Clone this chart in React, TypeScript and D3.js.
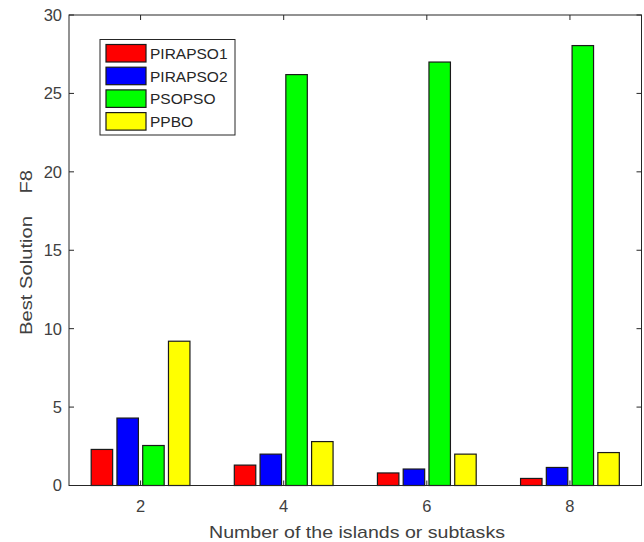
import React from "react";
import * as d3 from "d3";

const categories = [2, 4, 6, 8];
const seriesNames = ["PIRAPSO1", "PIRAPSO2", "PSOPSO", "PPBO"];
const seriesColors = ["#ff0000", "#0000ff", "#00ff00", "#ffff00"];
const pirapso1 = [2.3, 1.3, 0.8, 0.45];
const pirapso2 = [4.3, 2.0, 1.05, 1.15];
const psopso = [2.55, 26.2, 27.0, 28.05];
const ppbo = [9.2, 2.8, 2.0, 2.1];
const yTicks = [0, 5, 10, 15, 20, 25, 30];
const xTicks = [2, 4, 6, 8];

const W = 644;
const H = 542;
const M = { left: 69, right: 641.5, top: 15, bottom: 485.5 };

export default function App() {
  const series = [pirapso1, pirapso2, psopso, ppbo];
  const x = d3.scaleLinear().domain([1, 9]).range([M.left, M.right]);
  const y = d3.scaleLinear().domain([0, 30]).range([M.bottom, M.top]);
  const unit = x(2) - x(1);
  const step = unit * 0.36;
  const bw = unit * 0.3;
  const font = "'Liberation Sans', Arial, sans-serif";
  const tickLen = 5;

  return (
    <svg width={W} height={H} style={{ position: "absolute", left: 0, top: 0, background: "#fff" }}>
      <rect x={0} y={0} width={W} height={H} fill="#fff" />
      {/* bars */}
      {series.map((vals, si) =>
        vals.map((v, ci) => {
          const cx = x(categories[ci]) + (si - 1.5) * step;
          return (
            <rect
              key={`${si}-${ci}`}
              x={cx - bw / 2}
              y={y(v)}
              width={bw}
              height={y(0) - y(v)}
              fill={seriesColors[si]}
              stroke="#1a1a1a"
              strokeWidth={1.2}
            />
          );
        })
      )}
      {/* axes box */}
      <rect
        x={M.left}
        y={M.top}
        width={M.right - M.left}
        height={M.bottom - M.top}
        fill="none"
        stroke="#262626"
        strokeWidth={1}
      />
      {/* y ticks */}
      {yTicks.map((t) => (
        <g key={`y${t}`}>
          <line x1={M.left} x2={M.left + tickLen} y1={y(t)} y2={y(t)} stroke="#262626" />
          <line x1={M.right} x2={M.right - tickLen} y1={y(t)} y2={y(t)} stroke="#262626" />
          <text
            x={M.left - 7}
            y={y(t)}
            dy="0.36em"
            textAnchor="end"
            fontFamily={font}
            fontSize={16.5}
            fill="#404040"
          >
            {t}
          </text>
        </g>
      ))}
      {/* x ticks */}
      {xTicks.map((t) => (
        <g key={`x${t}`}>
          <line x1={x(t)} x2={x(t)} y1={M.bottom} y2={M.bottom - tickLen} stroke="#262626" />
          <line x1={x(t)} x2={x(t)} y1={M.top} y2={M.top + tickLen} stroke="#262626" />
          <text
            x={x(t)}
            y={512}
            textAnchor="middle"
            fontFamily={font}
            fontSize={16.5}
            fill="#404040"
          >
            {t}
          </text>
        </g>
      ))}
      {/* axis labels */}
      <text
        x={357}
        y={537.5}
        textAnchor="middle"
        fontFamily={font}
        fontSize={17}
        fill="#404040"
        textLength={296}
        lengthAdjust="spacingAndGlyphs"
      >
        Number of the islands or subtasks
      </text>
      <text
        transform={`translate(31.5,252.5) rotate(-90)`}
        textAnchor="middle"
        fontFamily={font}
        fontSize={17}
        fill="#404040"
        style={{ whiteSpace: "pre" }}
        textLength={165}
        lengthAdjust="spacingAndGlyphs"
      >
        {"Best Solution    F8"}
      </text>
      {/* legend */}
      <rect x={100} y={39.5} width={135} height={95.5} fill="#fff" stroke="#262626" strokeWidth={1} />
      {seriesNames.map((name, i) => (
        <g key={name}>
          <rect
            x={106}
            y={44.5 + i * 22.7}
            width={40}
            height={17.5}
            fill={seriesColors[i]}
            stroke="#1a1a1a"
            strokeWidth={1.2}
          />
          <text
            x={150}
            y={53.3 + i * 22.7}
            dy="0.36em"
            fontFamily={font}
            fontSize={15.5}
            fill="#262626"
          >
            {name}
          </text>
        </g>
      ))}
    </svg>
  );
}
